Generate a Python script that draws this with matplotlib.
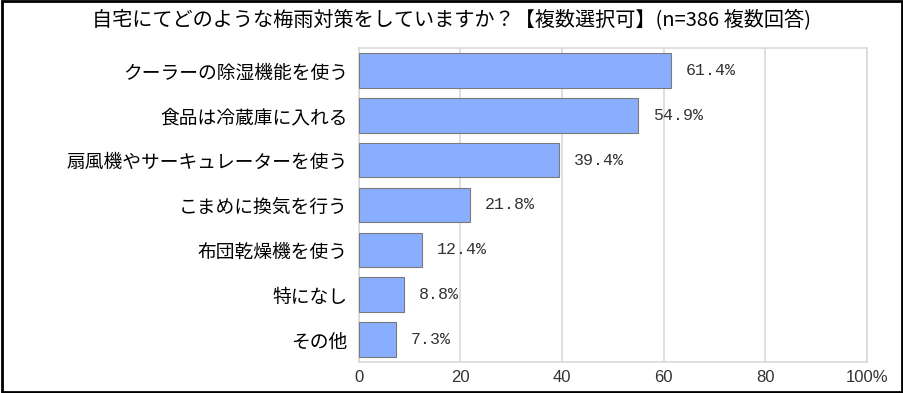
import matplotlib
matplotlib.use("Agg")
import matplotlib.pyplot as plt

plt.rcParams['font.family'] = ['Noto Sans CJK JP', 'DejaVu Sans']

# data
categories = ['クーラーの除湿機能を使う', '食品は冷蔵庫に入れる', '扇風機やサーキュレーターを使う',
              'こまめに換気を行う', '布団乾燥機を使う', '特になし', 'その他']
values = [61.4, 54.9, 39.4, 21.8, 12.4, 8.8, 7.3]
xticks = [0, 20, 40, 60, 80, 100]
xtick_labels = ['0', '20', '40', '60', '80', '100%']
title = '自宅にてどのような梅雨対策をしていますか？【複数選択可】(n=386 複数回答)'

fig = plt.figure(figsize=(9.04, 3.93), dpi=100)
ax = fig.add_axes([0.397, 0.079, 0.562, 0.799])

mono = ['Liberation Mono', 'DejaVu Sans Mono']

ypos = list(range(len(categories)))
ax.barh(ypos, values, height=0.77, color='#8aaeff', edgecolor='#7a7a7a', linewidth=0.8, zorder=3)
for y, v in zip(ypos, values):
    ax.text(v + 3, y, f'{v:.1f}%', va='center', ha='left', fontsize=12, color='#333333', family=mono)

ax.set_xlim(0, 100)
ax.set_ylim(len(categories) - 0.5, -0.5)
ax.set_yticks(ypos)
ax.set_yticklabels(categories, fontsize=13.5)
ax.set_xticks(xticks)
ax.set_xticklabels(xtick_labels, fontsize=12, family=['Liberation Sans', 'DejaVu Sans'], color='#333333')
ax.tick_params(length=0, pad=6)
ax.tick_params(axis='y', pad=8)
ax.grid(axis='x', color='#d9d9d9', linewidth=1.2, zorder=0)
for s in ax.spines.values():
    s.set_color('#d9d9d9')
    s.set_linewidth(1.2)

fig.text(0.5, 0.948, title, ha='center', va='center', fontsize=14.5)

# black frame around the whole figure
fig.patches.append(plt.Rectangle((0.002, 0.003), 0.996, 0.994, transform=fig.transFigure,
                                 fill=False, edgecolor='black', linewidth=2))

fig.savefig('out.png', dpi=100)
